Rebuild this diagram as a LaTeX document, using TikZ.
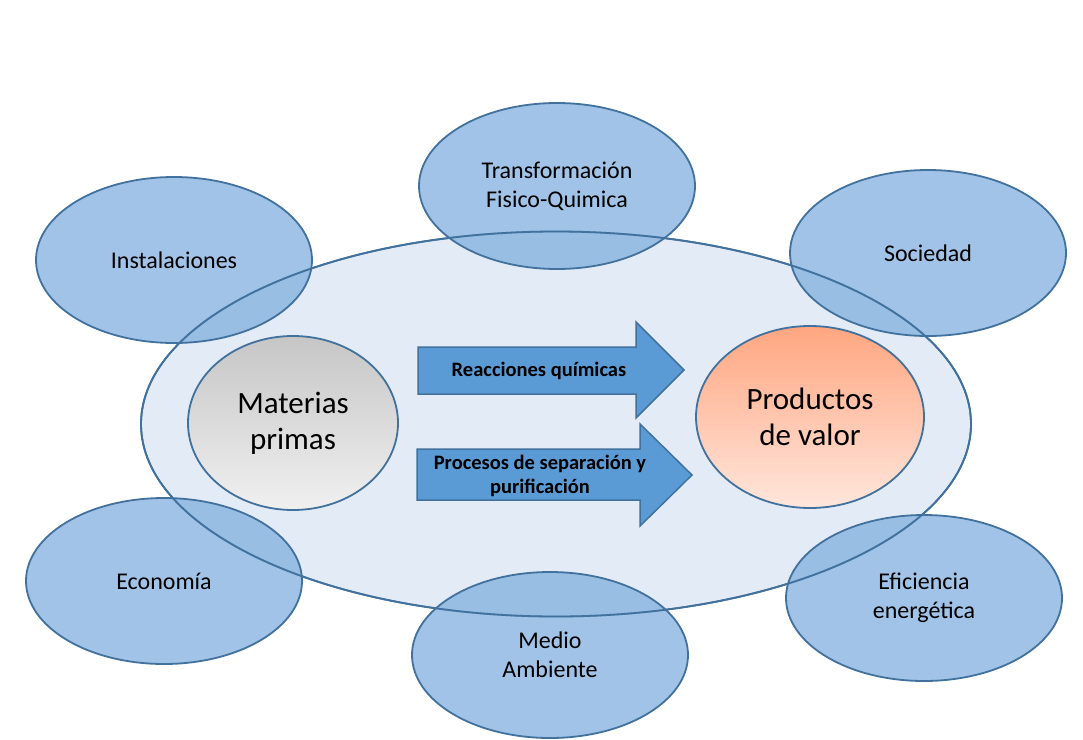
\documentclass[tikz,border=0pt]{standalone}
\usepackage{fontspec}
\setmainfont{Carlito}
\usepackage{tikz}
\usetikzlibrary{shapes.geometric, positioning}
\definecolor{edgeblue}{HTML}{41719C}
\definecolor{satblue}{HTML}{85B2E0}
\definecolor{bigblue}{HTML}{E2EBF6}
\definecolor{arrowblue}{HTML}{5B9BD5}
\definecolor{greytop}{HTML}{C6C6C6}
\definecolor{greybot}{HTML}{F0F0F0}
\definecolor{salmontop}{HTML}{FFA680}
\definecolor{salmonbot}{HTML}{FFE6DC}
\tikzset{
  satellite/.style={ellipse, draw=edgeblue, line width=1.8pt, fill=satblue, fill opacity=0.78, text opacity=1,
    minimum width=276pt, minimum height=166pt, inner sep=0pt, align=center,
    font=\fontsize{24}{29}\selectfont},
  core/.style={ellipse, draw=edgeblue, line width=1.8pt, inner sep=0pt, align=center,
    font=\fontsize{31}{36}\selectfont},
  blockarrow/.style={draw=edgeblue, line width=1.5pt, fill=arrowblue},
  arrowtext/.style={align=center, font=\fontsize{20.5}{24}\selectfont\bfseries}
}

\begin{document}
\begin{tikzpicture}[x=1pt, y=-1pt]
        \useasboundingbox (0,0) rectangle (1083,739);
        % large process ellipse
        \node[ellipse, draw=edgeblue, line width=1.8pt, fill=bigblue, minimum width=830pt, minimum height=385pt] (proceso) at (556,424) {};
        % surrounding aspects
        \node[satellite] (transf) at (557,186) {Transformación\\Fisico-Quimica};
        \node[satellite] (instal) at (174,260) {Instalaciones};
        \node[satellite] (socied) at (928,253) {Sociedad};
        \node[satellite] (econom) at (164,581) {Economía};
        \node[satellite] (medio) at (550,655) {Medio\\Ambiente};
        \node[satellite] (eficien) at (924,598) {Eficiencia\\energética};
        \draw[edgeblue, line width=1.8pt] (proceso.center) ellipse (415 and 192.5);
        % inputs and outputs
        \node[core, top color=greytop, bottom color=greybot, minimum width=210pt, minimum height=174pt] (materias) at (293,423) {Materias\\primas};
        \node[core, top color=salmontop, bottom color=salmonbot, minimum width=228pt, minimum height=182pt] (productos) at (810,417) {Productos\\de valor};
        % block arrows
        \draw[blockarrow] (418,347) -- (636,347) -- (636,322) -- (684,370) -- (636,418) -- (636,394) -- (418,394) -- cycle;
        \draw[blockarrow] (417,449) -- (640,449) -- (640,424) -- (692,475) -- (640,526) -- (640,500) -- (417,500) -- cycle;
        \node[arrowtext] (reacc) at (539,371) {Reacciones químicas};
        \node[arrowtext] (separ) at (540,476) {Procesos de separación y\\purificación};
\end{tikzpicture}
\end{document}
